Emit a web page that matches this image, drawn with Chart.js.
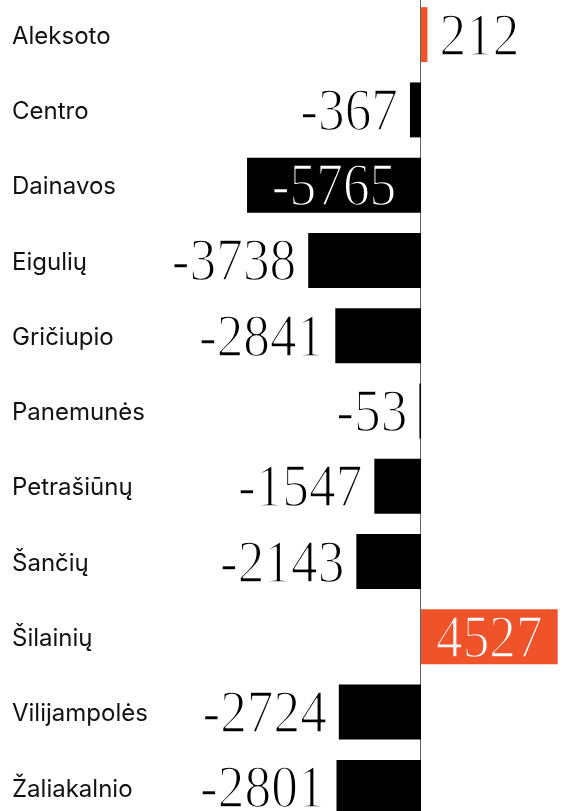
<!DOCTYPE html>
<html>
<head>
<meta charset="utf-8">
<script src="https://cdn.jsdelivr.net/npm/chart.js@4/dist/chart.umd.min.js"></script>
<style>
  html, body { margin: 0; padding: 0; background: #fff; overflow: hidden; }
  #wrap { position: absolute; left: 0; top: -3px; width: 565px; height: 828px; }
</style>
</head>
<body>
<div id="wrap"><canvas id="chart"></canvas></div>
<script>
// ===== DATA =====
const districts = ["Aleksoto","Centro","Dainavos","Eigulių","Gričiupio","Panemunės","Petrašiūnų","Šančių","Šilainių","Vilijampolės","Žaliakalnio"];
const changes = [212,-367,-5765,-3738,-2841,-53,-1547,-2143,4527,-2724,-2801];

const ORANGE = "#f0522a";
const BLACK = "#000000";
const SERIF = '"Liberation Serif", "Times New Roman", serif';
const SERIF_SIZE = 62;
const SQUEEZE = 0.86;   // narrow the serif digits a bit
const GAP = 12;

// value labels + zero line
const valueLabels = {
    id: "valueLabels",
    beforeDatasetsDraw(chart){
        const c = chart.ctx;
        const x0 = Math.round(chart.scales.x.getPixelForValue(0)) - 0.5;
        c.save();
        c.strokeStyle = "#666";
        c.lineWidth = 1;
        c.beginPath();
        c.moveTo(x0, 0);
        c.lineTo(x0, chart.height);
        c.stroke();
        c.restore();
    },
    afterDatasetsDraw(chart){
        const c = chart.ctx;
        const meta = chart.getDatasetMeta(0);
        const area = chart.chartArea;
        c.save();
        c.font = SERIF_SIZE + "px " + SERIF;
        const digitH = c.measureText("0").actualBoundingBoxAscent;
        meta.data.forEach((bar, i) => {
            const v = changes[i];
            const txt = String(v);
            const w = c.measureText(txt).width * SQUEEZE;
            const end = Math.min(Math.max(bar.x, area.left), area.right);
            const barW = Math.abs(end - bar.base);
            const baseline = bar.y + digitH / 2;
            let tx, align, color, erode;
            if (w + 20 <= barW){
                tx = (end + bar.base) / 2;
                align = "center";
                color = "#fff";
                erode = v > 0 ? ORANGE : BLACK;
            } else if (v < 0){
                tx = bar.x - GAP;
                align = "right";
                color = "#000";
                erode = "#fff";
            } else {
                tx = bar.x + GAP;
                align = "left";
                color = "#000";
                erode = "#fff";
            }
            c.save();
            c.translate(tx, baseline);
            c.scale(SQUEEZE, 1);
            c.textAlign = align;
            c.textBaseline = "alphabetic";
            c.fillStyle = color;
            c.fillText(txt, 0, 0);
            // thin the glyphs to look like a light display serif
            c.strokeStyle = erode;
            c.lineWidth = 1.6;
            c.lineJoin = "round";
            c.strokeText(txt, 0, 0);
            c.restore();
        });
        c.restore();
    }
};

function draw(){
    new Chart(document.getElementById("chart"), {
        type: "bar",
        data: {
            labels: districts,
            datasets: [{
                data: changes,
                backgroundColor: changes.map(v => v > 0 ? ORANGE : BLACK),
                borderWidth: 0,
                barPercentage: 0.73,
                categoryPercentage: 1
            }]
        },
        options: {
            indexAxis: "y",
            responsive: true,
            maintainAspectRatio: false,
            animation: false,
            layout: { padding: { left: 12, right: 0, top: 0, bottom: 0 } },
            plugins: { legend: { display: false }, tooltip: { enabled: false } },
            scales: {
                x: {
                    display: false,
                    min: -8980,
                    max: 4770
                },
                y: {
                    grid: { display: false },
                    border: { display: false },
                    ticks: {
                        crossAlign: "far",
                        labelOffset: 2,
                        color: "#111",
                        font: { family: "Inter, 'Liberation Sans', sans-serif", size: 24 }
                    },
                    afterFit(axis){
                        axis.width = 138;
                        axis.paddingTop = 0;
                        axis.paddingBottom = 0;
                    }
                }
            }
        },
        plugins: [valueLabels]
    });
}

Promise.all([
    document.fonts.load("24px Inter"),
    document.fonts.load(SERIF_SIZE + 'px "Liberation Serif"')
]).then(draw, draw);
</script>
</body>
</html>
